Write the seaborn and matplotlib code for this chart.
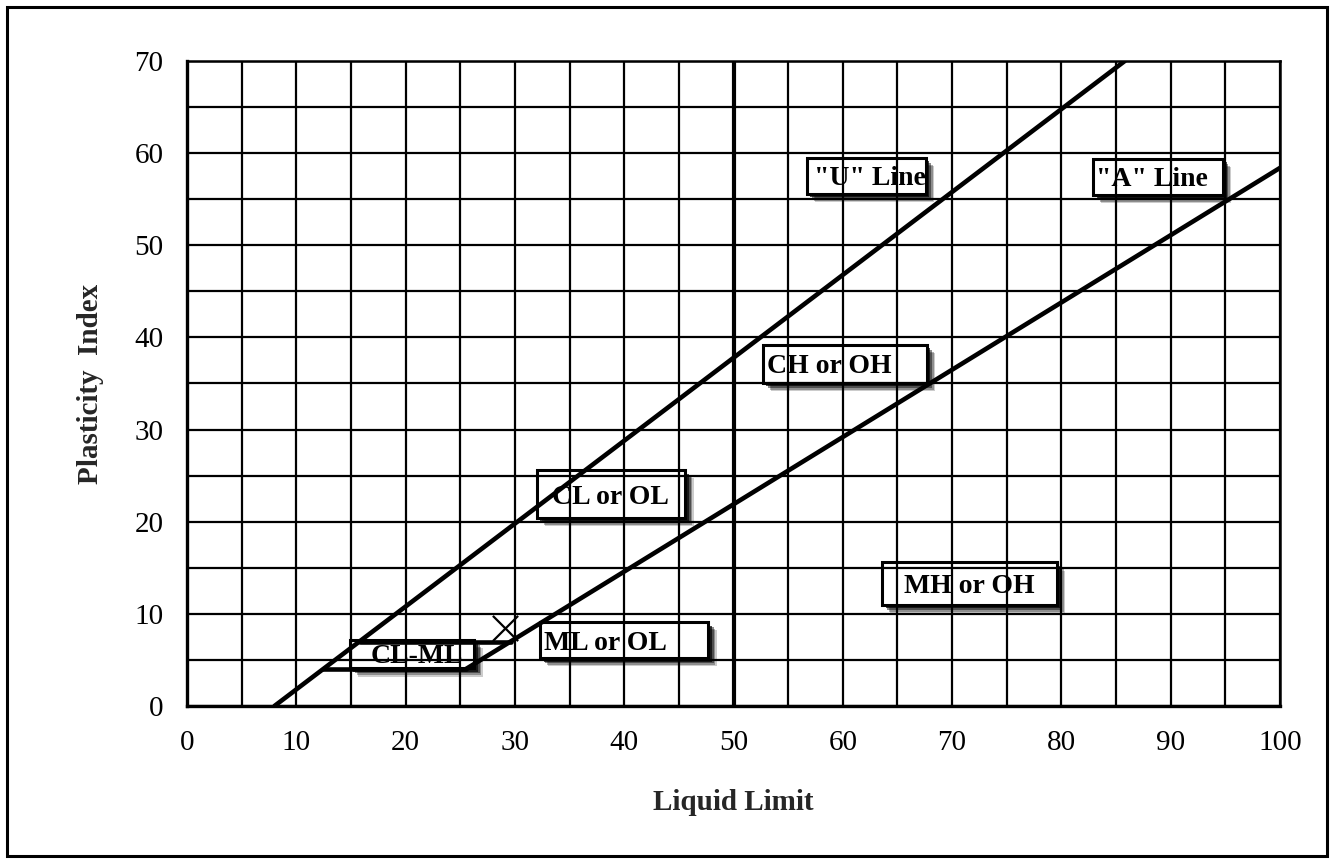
import matplotlib
matplotlib.use("Agg")
import matplotlib.pyplot as plt
import matplotlib.patheffects as pe
from matplotlib.patches import Rectangle
import seaborn as sns
import pandas as pd

# ---- data ----
u_line_ll = [8.0, 85.8]
u_line_pi = [0.0, 70.0]
a_line_ll = [25.5, 100.0]
a_line_pi = [4.0, 58.4]
clml_low_ll = [12.4, 25.5]
clml_low_pi = [4.0, 4.0]
clml_high_ll = [15.8, 29.6]
clml_high_pi = [7.0, 7.0]
marker_ll = [29.1]
marker_pi = [8.5]
ll_divider = 50

x_ticks = [0, 10, 20, 30, 40, 50, 60, 70, 80, 90, 100]
y_ticks = [0, 10, 20, 30, 40, 50, 60, 70]

# zone labels: text, box (x0, y0, x1, y1), text start x
labels = ['"U" Line', '"A" Line', 'CH or OH', 'CL or OL', 'MH or OH', 'ML or OL', 'CL-ML']
boxes = [(56.7, 55.6, 67.6, 59.5), (82.9, 55.5, 94.8, 59.4), (52.7, 35.1, 67.7, 39.2),
         (32.0, 20.4, 45.6, 25.6), (63.6, 11.0, 79.6, 15.6), (32.3, 5.2, 47.7, 9.1),
         (14.9, 4.1, 26.3, 7.2)]
text_x = [57.4, 83.2, 53.1, 33.4, 65.6, 32.7, 16.8]

sns.set_theme(style="white")
plt.rcParams['font.family'] = ['Liberation Serif', 'DejaVu Serif']

fig = plt.figure(figsize=(13.3, 8.63), dpi=100)
ax = fig.add_axes([187 / 1330, 1 - 706 / 863, (1280 - 187) / 1330, (706 - 61) / 863])

# figure border
fig.patches.append(Rectangle((7 / 1330, 7 / 863), (1327 - 7) / 1330, (856 - 7) / 863,
                             transform=fig.transFigure, fill=False, edgecolor='black',
                             linewidth=2.2, zorder=0))

line_kw = dict(color='black', linewidth=3.3, sort=False, estimator=None, ax=ax, legend=False)
sns.lineplot(x=u_line_ll, y=u_line_pi, zorder=4, **line_kw)
sns.lineplot(x=a_line_ll, y=a_line_pi, zorder=4, **line_kw)
sns.lineplot(x=clml_low_ll, y=clml_low_pi, zorder=4, **line_kw)
sns.lineplot(x=clml_high_ll, y=clml_high_pi, zorder=4, **line_kw)
ax.axvline(ll_divider, color='black', linewidth=3.0, zorder=4)
sns.scatterplot(x=marker_ll, y=marker_pi, marker='x', s=330, color='black',
                linewidth=1.6, ax=ax, zorder=5, legend=False)

shadow = [pe.SimplePatchShadow(offset=(6, -6), shadow_rgbFace='black', alpha=0.2),
          pe.SimplePatchShadow(offset=(5, -5), shadow_rgbFace='black', alpha=0.3),
          pe.SimplePatchShadow(offset=(3.8, -3.8), shadow_rgbFace='black', alpha=0.45),
          pe.SimplePatchShadow(offset=(2.5, -2.5), shadow_rgbFace='black', alpha=0.7),
          pe.Normal()]
for lab, (x0, y0, x1, y1), tx in zip(labels, boxes, text_x):
    r = Rectangle((x0, y0), x1 - x0, y1 - y0, facecolor='white', edgecolor='black',
                  linewidth=2.2, zorder=1)
    r.set_path_effects(shadow)
    ax.add_patch(r)
    ax.text(tx, (y0 + y1) / 2, lab, fontsize=20, fontweight='bold', ha='left',
            va='center_baseline', zorder=1.5, color='black')

ax.set_xlim(0, 100)
ax.set_ylim(0, 70)
ax.set_xticks(x_ticks)
ax.set_yticks(y_ticks)
ax.set_xticks(range(5, 100, 10), minor=True)
ax.set_yticks(range(5, 70, 10), minor=True)
ax.set_axisbelow(False)
ax.grid(True, which='both', color='black', linewidth=1.6)
for g in ax.get_xgridlines() + ax.get_ygridlines():
    g.set_zorder(2)
for g in ax.xaxis.get_minorticklines() + ax.yaxis.get_minorticklines():
    g.set_visible(False)
ax.tick_params(axis='both', which='both', length=0, labelsize=21, colors='black')
ax.tick_params(axis='x', pad=17)
ax.tick_params(axis='y', pad=17)
for s in ax.spines.values():
    s.set_color('black')
    s.set_linewidth(1.8)
    s.set_zorder(3)
ax.spines['left'].set_linewidth(2.4)
ax.spines['bottom'].set_linewidth(2.4)

ax.set_xlabel('Liquid Limit', fontsize=21, fontweight='bold', labelpad=24)
ax.set_ylabel('Plasticity  Index', fontsize=21, fontweight='bold', labelpad=22)

fig.savefig('out.png', dpi=100, facecolor='white')
